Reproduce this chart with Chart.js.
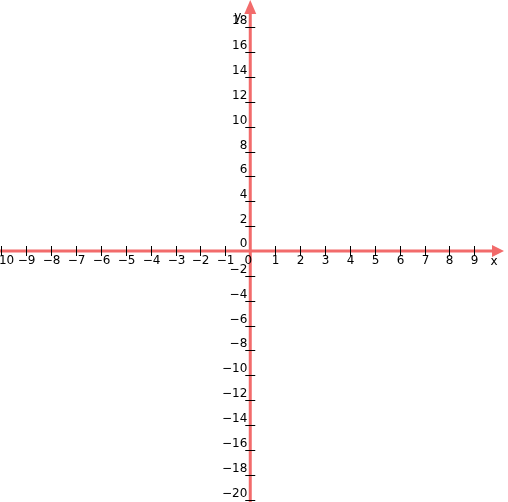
<!DOCTYPE html><html><head><script src="https://cdn.jsdelivr.net/npm/chart.js@4"></script>
<style>html,body{margin:0;padding:0;background:#fff}#w{width:508px;height:502px}</style></head><body><div id="w"><canvas id="c"></canvas></div>
<script>
const xTicks=[-10,-9,-8,-7,-6,-5,-4,-3,-2,-1,1,2,3,4,5,6,7,8,9];
const yTicks=[-20,-18,-16,-14,-12,-10,-8,-6,-4,-2,2,4,6,8,10,12,14,16,18];
const xRange=[-10.05,10.35], yRange=[-20.2,20.2];
const axisColor='#f26b6b';
const axesPlugin={id:'ax',afterDraw(ch){
 const c=ch.ctx,x=ch.scales.x,y=ch.scales.y;
 const x0=x.getPixelForValue(0),y0=y.getPixelForValue(0);
 c.save();c.strokeStyle=axisColor;c.fillStyle=axisColor;c.lineWidth=3;
 c.beginPath();c.moveTo(x.left,y0);c.lineTo(x.right-8,y0);c.stroke();
 c.beginPath();c.moveTo(x0,y.bottom);c.lineTo(x0,y.top+8);c.stroke();
 c.beginPath();c.moveTo(x.right-4,y0);c.lineTo(x.right-16,y0-6);c.lineTo(x.right-16,y0+6);c.fill();
 c.beginPath();c.moveTo(x0,y.top);c.lineTo(x0-6,y.top+14);c.lineTo(x0+6,y.top+14);c.fill();
 c.strokeStyle='#000';c.lineWidth=1;c.fillStyle='#000';c.font='12px "DejaVu Sans"';
 xTicks.forEach(v=>{const p=Math.round(x.getPixelForValue(v))+0.5;c.beginPath();c.moveTo(p,y0-5);c.lineTo(p,y0+5);c.stroke();
  c.textAlign='center';c.textBaseline='top';c.fillText(String(v).replace('-','\u2212'),p,y0+4);});
 yTicks.forEach(v=>{const p=Math.round(y.getPixelForValue(v))+0.5;c.beginPath();c.moveTo(x0-5,p);c.lineTo(x0+5,p);c.stroke();
  c.textAlign='right';c.textBaseline='bottom';c.fillText(String(v).replace('-','\u2212'),x0-3,p-1);});
 c.textAlign='right';c.textBaseline='bottom';c.fillText('0',x0-3,y0-1);
 c.textAlign='center';c.textBaseline='top';c.fillText('0',x0-2,y0+4);
 c.fillText('x',x.right-14,y0+5);c.textAlign='left';c.textBaseline='middle';c.fillText('y',x0-16,y.top+17);
 c.restore();}};
new Chart(document.getElementById('c'),{type:'scatter',data:{datasets:[{data:[]}]},
 options:{responsive:true,maintainAspectRatio:false,animation:false,layout:{padding:0},
 plugins:{legend:{display:false},tooltip:{enabled:false}},
 scales:{x:{type:'linear',min:xRange[0],max:xRange[1],display:false},y:{type:'linear',min:yRange[0],max:yRange[1],display:false}}},
 plugins:[axesPlugin]});
</script></body></html>
